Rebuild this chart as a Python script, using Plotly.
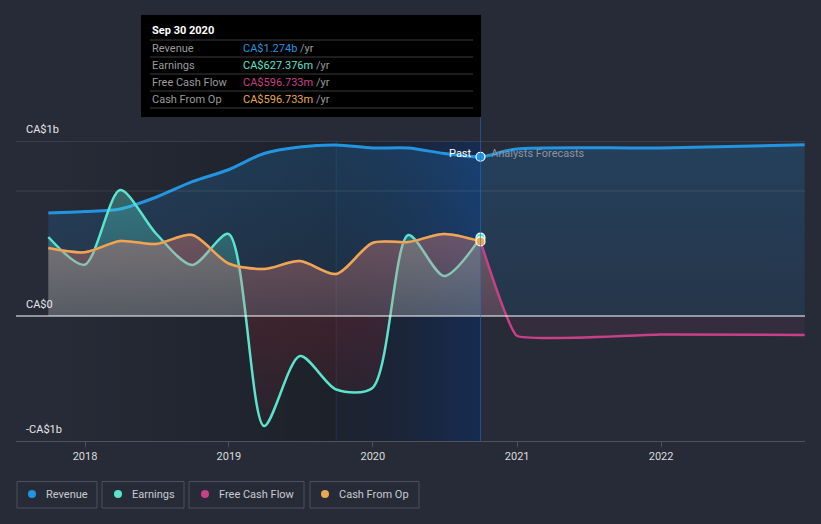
import plotly.graph_objects as go

# ---------------- data (values in CA$) ----------------
past_dates = ["2017-09-30", "2017-12-31", "2018-03-31", "2018-06-30", "2018-09-30",
              "2018-12-31", "2019-03-31", "2019-06-30", "2019-09-30", "2019-12-31",
              "2020-03-31", "2020-06-30", "2020-09-30"]
forecast_dates = ["2020-12-31", "2021-12-31", "2022-12-31"]

revenue_past = [0.824e9, 0.836e9, 0.856e9, 0.95e9, 1.075e9, 1.17e9, 1.30e9, 1.352e9,
                1.368e9, 1.344e9, 1.344e9, 1.30e9, 1.274e9]
revenue_forecast = [1.336e9, 1.344e9, 1.37e9]
earnings_past = [0.632e9, 0.41e9, 1.008e9, 0.66e9, 0.408e9, 0.656e9, -0.88e9, -0.32e9,
                 -0.588e9, -0.576e9, 0.648e9, 0.32e9, 0.627e9]
cfo_past = [0.544e9, 0.51e9, 0.60e9, 0.576e9, 0.648e9, 0.42e9, 0.376e9, 0.44e9,
            0.336e9, 0.584e9, 0.592e9, 0.656e9, 0.597e9]
fcf_past = list(cfo_past)
fcf_forecast = [-0.158e9, -0.148e9, -0.152e9]

year_ticks = ["2018-01-01", "2019-01-01", "2020-01-01", "2021-01-01", "2022-01-01"]
year_labels = ["2018", "2019", "2020", "2021", "2022"]
y_labels = ["CA$1b", "CA$0", "-CA$1b"]

series_names = ["Revenue", "Earnings", "Free Cash Flow", "Cash From Op"]
tooltip_date = "Sep 30 2020"
tooltip_values = ["CA$1.274b", "CA$627.376m", "CA$596.733m", "CA$596.733m"]

# ---------------- style ----------------
BG = "#262b37"
C_REV = "#2394df"
C_EARN = "#5ce3cd"
C_FCF = "#c94088"
C_CFO = "#e8a94f"
colors = [C_REV, C_EARN, C_FCF, C_CFO]
FONT = "Roboto, 'Open Sans', sans-serif"

W, H = 821, 524
L, R, T, B = 16, 805, 141, 441
Y_MIN, Y_MAX = -1.0e9, 1.4e9
X_MIN, X_MAX = "2017-07-10", "2023-01-01"


def px(x):
    return (x - L) / (R - L)


def py(y):
    return (B - y) / (B - T)


fig = go.Figure()

# dark highlight (history) region
d0, d1, d2 = past_dates[0], "2019-09-30", past_dates[-1]
fig.add_trace(go.Scatter(
    x=[d0, d1, d1, d0, d0], y=[Y_MIN, Y_MIN, Y_MAX, Y_MAX, Y_MIN],
    mode="lines", line=dict(width=0), fill="toself",
    fillgradient=dict(type="horizontal",
                      colorscale=[[0, "rgba(0,0,0,0)"], [1, "rgba(0,0,0,0.24)"]]),
    hoverinfo="skip", showlegend=False))
# blue last-year band
fig.add_trace(go.Scatter(
    x=[d1, d2, d2, d1, d1], y=[Y_MIN, Y_MIN, Y_MAX, Y_MAX, Y_MIN],
    mode="lines", line=dict(width=0), fill="toself",
    fillgradient=dict(type="horizontal",
                      colorscale=[[0, "rgba(5,10,20,0.25)"], [1, "rgba(8,45,110,0.5)"]]),
    hoverinfo="skip", showlegend=False))

frac0 = (0 - Y_MIN) / (Y_MAX - Y_MIN)

# revenue
fig.add_trace(go.Scatter(
    x=past_dates + forecast_dates, y=revenue_past + revenue_forecast,
    mode="lines", line=dict(color=C_REV, width=3, shape="spline", smoothing=0.8),
    fill="tozeroy",
    fillgradient=dict(type="vertical", start=0, stop=Y_MAX,
                      colorscale=[[0, "rgba(33,150,243,0.10)"], [1, "rgba(33,150,243,0.20)"]]),
    hoverinfo="skip", showlegend=False))

# earnings
fig.add_trace(go.Scatter(
    x=past_dates, y=earnings_past,
    mode="lines", line=dict(color=C_EARN, width=2.5, shape="spline", smoothing=0.8),
    fill="tozeroy",
    fillgradient=dict(type="vertical", start=Y_MIN, stop=Y_MAX,
                      colorscale=[[0, "rgba(200,40,50,0.03)"],
                                  [frac0 - 0.0005, "rgba(200,40,50,0.18)"],
                                  [frac0 + 0.0005, "rgba(88,230,210,0.15)"],
                                  [1, "rgba(88,230,210,0.42)"]]),
    hoverinfo="skip", showlegend=False))

fcf_grad = dict(type="vertical", start=Y_MIN, stop=Y_MAX,
                colorscale=[[0, "rgba(201,64,136,0.02)"],
                            [frac0 - 0.0005, "rgba(201,64,136,0.09)"],
                            [frac0 + 0.0005, "rgba(235,130,120,0.22)"],
                            [1, "rgba(235,130,120,0.55)"]])

# free cash flow (history part, hidden under cash from op line)
fig.add_trace(go.Scatter(
    x=past_dates, y=fcf_past,
    mode="lines", line=dict(color=C_FCF, width=2.5, shape="spline", smoothing=0.8),
    fill="tozeroy", fillgradient=fcf_grad,
    hoverinfo="skip", showlegend=False))
# free cash flow (forecast part)
fig.add_trace(go.Scatter(
    x=past_dates[-1:] + forecast_dates, y=fcf_past[-1:] + fcf_forecast,
    mode="lines", line=dict(color=C_FCF, width=2.5, shape="spline", smoothing=0.3),
    fill="tozeroy", fillgradient=fcf_grad,
    hoverinfo="skip", showlegend=False))

# cash from operations
fig.add_trace(go.Scatter(
    x=past_dates, y=cfo_past,
    mode="lines", line=dict(color=C_CFO, width=2.5, shape="spline", smoothing=0.8),
    hoverinfo="skip", showlegend=False))

# end-of-past markers
for val, col in [(revenue_past[-1], C_REV), (earnings_past[-1], C_EARN), (cfo_past[-1], C_CFO)]:
    fig.add_trace(go.Scatter(
        x=[past_dates[-1]], y=[val], mode="markers",
        marker=dict(size=9, color=col, line=dict(color="#ffffff", width=1.2)),
        hoverinfo="skip", showlegend=False))

shapes = []
# grid / axis lines
shapes.append(dict(type="line", xref="paper", yref="y", x0=0, x1=1, y0=Y_MAX, y1=Y_MAX,
                   line=dict(color="#4d525d", width=1)))
shapes.append(dict(type="line", xref="paper", yref="y", x0=0, x1=1, y0=1e9, y1=1e9,
                   line=dict(color="rgba(255,255,255,0.1)", width=1)))
shapes.append(dict(type="line", xref="paper", yref="y", x0=0, x1=1, y0=0, y1=0,
                   line=dict(color="#ffffff", width=1.2)))
# band edges
shapes.append(dict(type="line", xref="x", yref="y", x0=d1, x1=d1, y0=Y_MIN, y1=Y_MAX,
                   line=dict(color="rgba(40,90,160,0.45)", width=1), layer="below"))
shapes.append(dict(type="line", xref="x", yref="paper", x0=d2, x1=d2, y0=0, y1=py(117),
                   line=dict(color="rgba(40,110,200,0.55)", width=1)))
# tooltip box
shapes.append(dict(type="rect", xref="paper", yref="paper", x0=px(141), x1=px(481),
                   y0=py(117), y1=py(15), fillcolor="#000000",
                   line=dict(color="#000000", width=0)))
for yy in [40, 57, 74, 91, 108]:
    shapes.append(dict(type="line", xref="paper", yref="paper", x0=px(150), x1=px(473),
                       y0=py(yy), y1=py(yy), line=dict(color="#3c3c3c", width=1)))

annotations = []
annotations.append(dict(text="<b>" + tooltip_date + "</b>", xref="paper", yref="paper",
                        x=px(150), y=py(31), xanchor="left", yanchor="middle",
                        showarrow=False, font=dict(family=FONT, size=11, color="#ffffff")))
for i, (nm, v, col) in enumerate(zip(series_names, tooltip_values, colors)):
    yy = 48.5 + i * 17
    annotations.append(dict(text=nm, xref="paper", yref="paper", x=px(150), y=py(yy),
                            xanchor="left", yanchor="middle", showarrow=False,
                            font=dict(family=FONT, size=11, color="#9a9a9a")))
    annotations.append(dict(text=f"<span style='color:{col}'>{v}</span> /yr",
                            xref="paper", yref="paper", x=px(241), y=py(yy),
                            xanchor="left", yanchor="middle", showarrow=False,
                            font=dict(family=FONT, size=11, color="#9a9a9a")))

# y labels
for lab, yy in zip(y_labels, [129, 304, 429]):
    annotations.append(dict(text=lab, xref="paper", yref="paper", x=px(24), y=py(yy),
                            xanchor="left", yanchor="middle", showarrow=False,
                            font=dict(family=FONT, size=11, color="#e6e6e6")))

# Past / Analysts Forecasts
annotations.append(dict(text="Past", xref="paper", yref="paper", x=px(474), y=py(153),
                        xanchor="right", yanchor="middle", showarrow=False,
                        font=dict(family=FONT, size=11, color="#ffffff")))
annotations.append(dict(text="Analysts Forecasts", xref="paper", yref="paper", x=px(489),
                        y=py(153), xanchor="left", yanchor="middle", showarrow=False,
                        font=dict(family=FONT, size=11, color="#8e939c")))

# legend boxes
legend_boxes = [(17, 97, 32, 44), (102, 184, 118, 130), (189, 304, 205, 217), (310, 419, 325, 337)]
for (bx0, bx1, dot_x, tx), nm, col in zip(legend_boxes, series_names, colors):
    shapes.append(dict(type="rect", xref="paper", yref="paper", x0=px(bx0), x1=px(bx1),
                       y0=py(508), y1=py(481.5), line=dict(color="#4b505b", width=1),
                       fillcolor="rgba(0,0,0,0)"))
    shapes.append(dict(type="circle", xref="paper", yref="paper", x0=px(dot_x - 4),
                       x1=px(dot_x + 4), y0=py(498), y1=py(490), fillcolor=col,
                       line=dict(width=0)))
    annotations.append(dict(text=nm, xref="paper", yref="paper", x=px(tx), y=py(494.5),
                            xanchor="left", yanchor="middle", showarrow=False,
                            font=dict(family=FONT, size=11, color="#c8cbd0")))

fig.update_layout(
    width=W, height=H,
    margin=dict(l=L, r=W - R, t=T, b=H - B),
    paper_bgcolor=BG, plot_bgcolor=BG,
    hovermode=False,
    showlegend=False,
    shapes=shapes,
    annotations=annotations,
    xaxis=dict(type="date", range=[X_MIN, X_MAX], tickvals=year_ticks, ticktext=year_labels,
               showgrid=False, zeroline=False, showline=True, linecolor="#4d525d",
               linewidth=1, ticks="outside", ticklen=5, tickcolor="#4d525d",
               tickfont=dict(family="'Liberation Sans Narrow', Roboto, sans-serif",
                             size=11, color="#dcdcdc"),
               fixedrange=True),
    yaxis=dict(range=[Y_MIN, Y_MAX], showgrid=False, zeroline=False, showticklabels=False,
               showline=False, fixedrange=True),
)

fig.write_html("out.html", config={"displayModeBar": False},
               post_script="document.body.style.margin='0';document.body.style.background='" + BG + "';")
